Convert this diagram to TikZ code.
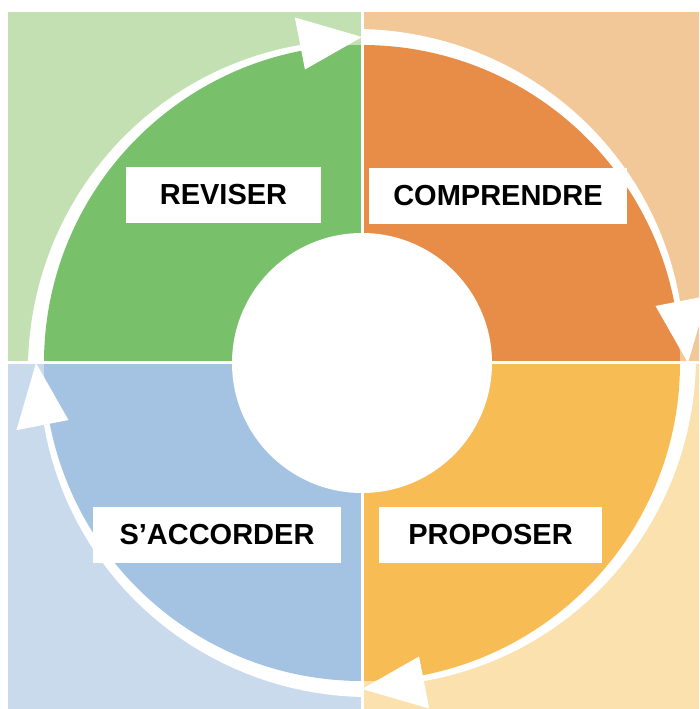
\documentclass[tikz,border=0pt]{standalone}
\usepackage{fontspec}
\setmainfont{Liberation Sans}
\definecolor{lgreen}{HTML}{C3E0B2}
\definecolor{dgreen}{HTML}{78C16A}
\definecolor{lorange}{HTML}{F2C898}
\definecolor{dorange}{HTML}{E88D47}
\definecolor{lyellow}{HTML}{FAE1AD}
\definecolor{dyellow}{HTML}{F8BC55}
\definecolor{lblue}{HTML}{C8DAEC}
\definecolor{dblue}{HTML}{A4C3E2}
\begin{document}
\begin{tikzpicture}[x=1pt,y=1pt,
  lab/.style={fill=white, inner sep=0pt, font=\fontsize{29}{29}\selectfont\bfseries, minimum height=56pt, text=black}]
\useasboundingbox (-362,-346) rectangle (337,363);
\clip (-362,-346) rectangle (337,363);
% light backgrounds
\fill[lgreen] (-354,0) rectangle (0,351);
\fill[lorange] (0,0) rectangle (337,351);
\fill[lyellow] (0,0) rectangle (337,-346);
\fill[lblue] (-354,0) rectangle (0,-346);
% ring bands (tapered)
\foreach \a/\b in {180/90, 90/0, 0/-90, -90/-180}{
  \pgfmathsetmacro\e{\b+11}
  \fill[white] plot[domain=\e:\a, samples=40] (\x:{334-10*(\a-\x)/(\a-\e)})
    -- (\a:316) arc[start angle=\a, end angle=\e, radius=316] -- cycle;
}
% dark sectors
\fill[dgreen] (0,0) -- (180:318) arc[start angle=180,end angle=90,radius=318] -- cycle;
\fill[dorange] (0,0) -- (90:318) arc[start angle=90,end angle=0,radius=318] -- cycle;
\fill[dyellow] (0,0) -- (0:318) arc[start angle=0,end angle=-90,radius=318] -- cycle;
\fill[dblue] (0,0) -- (-90:318) arc[start angle=-90,end angle=-180,radius=318] -- cycle;
% arrowheads
\foreach \b in {90, 0, -90, -180}{
  \fill[white] (\b:326) -- ({\b+11}:299) -- ({\b+11}:352) -- cycle;
}
% centre
\fill[white] (0,0) circle (130);
% dividers
\draw[white, line width=3pt] (0,-346) -- (0,351);
\draw[white, line width=3pt] (-354,0) -- (337,0);
% labels
\node[lab, minimum width=195pt] (rev) at (-138.5,168) {REVISER};
\node[lab, minimum width=258pt] (comp) at (136,167) {COMPRENDRE};
\node[lab, minimum width=248pt] (acc) at (-145,-172) {S’ACCORDER};
\node[lab, minimum width=223pt] (prop) at (128.5,-172) {PROPOSER};
\end{tikzpicture}
\end{document}
